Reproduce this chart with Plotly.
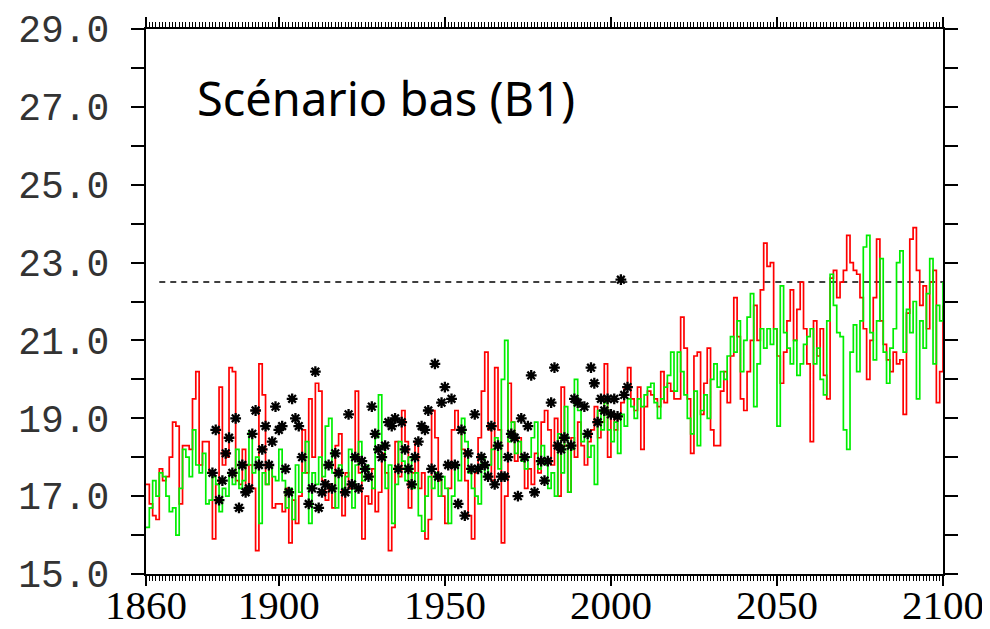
import plotly.graph_objects as go

START_YEAR = 1860
END_YEAR = 2100
years = list(range(START_YEAR, END_YEAR + 1))

red_values = [
    # 1860-1899
    17.3, 16.8, 16.5, 16.4, 17.7, 17.4, 17.5, 18.0, 18.9, 18.8,
    16.8, 18.3, 18.3, 18.2, 19.5, 20.2, 17.8, 18.4, 18.4, 17.6,
    15.9, 17.3, 19.8, 17.8, 18.0, 20.3, 20.2, 17.4, 17.3, 18.2,
    17.1, 17.8, 17.2, 15.6, 20.4, 19.6, 17.3, 17.8, 16.7, 16.8,
    # 1900-1939
    16.8, 16.6, 17.2, 15.8, 16.9, 16.3, 17.0, 18.7, 17.6, 19.5,
    18.0, 19.9, 19.7, 17.4, 16.9, 17.3, 16.7, 18.3, 18.6, 16.5,
    17.6, 17.2, 18.0, 19.7, 17.6, 15.9, 17.0, 16.8, 17.7, 16.6,
    17.1, 18.1, 17.6, 15.6, 16.2, 18.4, 17.5, 19.2, 18.4, 16.7,
    # 1940-1979
    17.6, 18.4, 17.2, 17.6, 15.9, 16.4, 19.2, 18.5, 17.4, 17.0,
    16.3, 17.2, 18.7, 19.2, 18.7, 18.2, 17.4, 16.5, 15.9, 17.6,
    18.5, 19.7, 20.7, 18.7, 17.4, 20.3, 18.7, 15.8, 17.0, 19.9,
    18.9, 17.9, 18.5, 18.0, 17.2, 17.7, 17.3, 18.1, 17.6, 18.9,
    # 1980-2019
    19.2, 18.7, 17.8, 19.0, 17.0, 19.8, 18.3, 17.1, 18.5, 18.0,
    18.9, 18.3, 17.8, 18.4, 18.7, 19.3, 18.5, 18.9, 20.4, 18.0,
    19.1, 18.7, 19.0, 19.4, 19.8, 20.3, 19.5, 19.2, 19.8, 18.2,
    19.3, 19.7, 19.6, 19.5, 19.3, 20.2, 19.4, 19.9, 19.7, 19.5,
    # 2020-2059
    19.5, 21.6, 20.8, 19.5, 18.1, 20.6, 20.7, 19.1, 19.9, 20.8,
    18.7, 18.3, 18.3, 19.7, 20.2, 19.4, 20.6, 22.1, 21.1, 19.5,
    19.2, 20.2, 21.0, 21.9, 21.0, 22.3, 23.5, 22.9, 23.0, 21.3,
    20.6, 19.9, 20.7, 21.5, 22.3, 21.0, 21.8, 22.5, 21.3, 20.4,
    # 2060-2100
    18.4, 21.5, 20.6, 21.3, 20.1, 19.5, 22.6, 22.8, 22.1, 22.5,
    22.8, 23.7, 23.0, 22.8, 22.7, 22.1, 21.3, 20.0, 21.0, 22.1,
    23.6, 21.5, 20.9, 20.5, 20.2, 20.7, 20.4, 20.5, 19.1, 21.7,
    23.6, 23.9, 22.8, 21.9, 22.4, 21.3, 22.5, 22.8, 19.4, 20.2,
    21.9,
]

green_values = [
    # 1860-1899
    16.2, 16.7, 17.4, 17.0, 17.6, 17.5, 17.0, 16.6, 16.7, 16.0,
    17.2, 18.2, 18.0, 17.5, 18.7, 17.8, 17.6, 18.1, 16.8, 16.9,
    17.5, 17.3, 16.6, 17.2, 17.0, 17.6, 17.3, 18.2, 17.2, 17.4,
    17.8, 18.65, 17.6, 18.0, 16.3, 17.6, 17.3, 17.8, 17.5, 17.4,
    # 1900-1939
    18.2, 17.4, 16.7, 17.2, 16.4, 17.8, 17.1, 17.6, 18.4, 16.3,
    17.6, 17.3, 18.0, 17.5, 18.8, 19.0, 17.6, 16.7, 17.8, 17.2,
    17.5, 18.2, 16.7, 17.8, 18.4, 17.4, 17.8, 17.5, 17.2, 18.5,
    19.6, 18.3, 17.2, 17.8, 16.3, 17.3, 18.4, 17.9, 17.4, 18.0,
    # 1940-1979
    17.2, 17.6, 16.5, 16.1, 17.0, 17.5, 17.2, 17.6, 17.0, 17.5,
    17.2, 16.3, 17.0, 17.8, 17.4, 19.0, 18.4, 17.6, 17.2, 17.0,
    16.8, 18.0, 17.5, 17.8, 18.2, 18.5, 17.7, 20.0, 21.0, 18.4,
    18.9, 18.1, 18.4, 17.9, 17.7, 18.0, 18.5, 18.9, 17.7, 18.3,
    # 1980-2019
    17.8, 17.2, 17.6, 17.0, 18.6, 17.6, 19.3, 17.1, 18.2, 20.0,
    19.2, 18.4, 18.6, 18.0, 18.3, 17.3, 19.2, 18.7, 19.4, 18.7,
    18.4, 18.9, 18.1, 19.1, 18.8, 19.5, 19.3, 19.0, 19.5, 19.3,
    19.6, 19.8, 19.9, 19.4, 19.0, 19.5, 19.8, 20.1, 20.7, 19.7,
    # 2020-2059
    20.7, 20.2, 19.6, 19.0, 18.6, 19.7, 18.3, 19.2, 19.6, 19.0,
    20.0, 20.4, 19.8, 20.2, 20.0, 20.6, 21.1, 20.7, 21.5, 20.2,
    21.0, 21.6, 22.2, 19.3, 20.4, 21.3, 20.8, 21.3, 20.9, 21.3,
    18.8, 22.4, 21.2, 20.8, 20.4, 21.0, 20.1, 20.4, 20.9, 21.1,
    # 2060-2100
    21.3, 20.4, 20.8, 20.0, 19.6, 21.5, 22.7, 21.9, 21.2, 21.1,
    18.7, 18.2, 20.7, 21.4, 20.2, 21.5, 23.4, 23.7, 21.2, 20.5,
    21.5, 23.1, 20.7, 19.9, 20.8, 21.3, 23.0, 23.3, 20.7, 21.8,
    21.2, 22.0, 19.5, 21.5, 20.8, 22.2, 23.1, 20.4, 21.9, 21.5,
    22.5,
]

obs_years = [
    1880, 1881, 1882, 1883, 1884, 1885, 1886, 1887, 1888, 1889,
    1890, 1891, 1892, 1893, 1894, 1895, 1896, 1897, 1898, 1899,
    1900, 1901, 1902, 1903, 1904, 1905, 1906, 1907, 1909, 1910,
    1911, 1912, 1913, 1914, 1915, 1916, 1917, 1918, 1920, 1921,
    1922, 1923, 1924, 1925, 1926, 1927, 1928, 1929, 1930, 1931,
    1932, 1933, 1934, 1935, 1936, 1937, 1938, 1939, 1940, 1941,
    1942, 1943, 1944, 1945, 1946, 1947, 1948, 1949, 1950, 1951,
    1952, 1953, 1954, 1955, 1956, 1957, 1958, 1959, 1960, 1961,
    1962, 1963, 1964, 1965, 1966, 1967, 1968, 1969, 1970, 1971,
    1972, 1973, 1974, 1975, 1976, 1977, 1979, 1980, 1981, 1982,
    1983, 1984, 1985, 1986, 1988, 1989, 1990, 1992, 1993, 1994,
    1995, 1996, 1997, 1998, 1999, 2000, 2001, 2002, 2003, 2004,
    2005,
]
obs_values = [
    17.6, 18.7, 16.9, 17.4, 18.1, 18.5, 17.6, 19.0, 16.7, 17.8,
    17.1, 17.2, 18.6, 19.2, 17.8, 18.2, 18.8, 17.8, 18.4, 19.3,
    18.7, 18.8, 17.7, 17.1, 19.5, 19.0, 18.8, 18.0, 16.8, 17.2,
    20.2, 16.7, 17.1, 17.3, 17.8, 17.2, 18.1, 17.6, 17.1, 19.1,
    17.3, 18.0, 17.2, 17.9, 17.7, 17.5, 19.3, 18.6, 18.2, 18.0,
    18.3, 18.9, 18.8, 19.0, 17.7, 18.9, 18.2, 17.7, 17.3, 18.0,
    18.4, 18.8, 18.7, 19.2, 17.7, 20.4, 17.5, 19.4, 19.8, 17.8,
    19.5, 17.8, 16.8, 18.7, 16.5, 18.1, 17.7, 19.1, 17.7, 18.0,
    17.8, 17.5, 18.8, 17.3, 18.3, 17.5, 17.5, 18.0, 18.6, 18.5,
    17.0, 19.0, 18.0, 18.8, 20.1, 17.1, 17.9, 17.4, 17.9, 19.4,
    20.3, 18.3, 18.2, 18.5, 18.3, 19.5, 19.4, 19.3, 18.6, 20.3,
    19.9, 18.9, 19.5, 19.2, 19.5, 19.1, 19.5, 19.05, 22.56, 19.6,
    19.8,
]

threshold = 22.5
threshold_start = 1864

y_major = [15, 17, 19, 21, 23, 25, 27, 29]
y_labels = ["15.0", "17.0", "19.0", "21.0", "23.0", "25.0", "27.0", "29.0"]
x_major = [1860, 1900, 1950, 2000, 2050, 2100]
x_labels = ["1860", "1900", "1950", "2000", "2050", "2100"]
title_text = "Scénario bas (B1)"

fig = go.Figure()

fig.add_trace(go.Scatter(
    x=[threshold_start, END_YEAR], y=[threshold, threshold], mode="lines",
    line=dict(color="black", width=1.6, dash="6px,5px"), hoverinfo="skip",
))
fig.add_trace(go.Scatter(
    x=years, y=red_values, mode="lines", line=dict(color="#ff0000", width=1.7, shape="hv"),
))
fig.add_trace(go.Scatter(
    x=years, y=green_values, mode="lines", line=dict(color="#00ee00", width=1.7, shape="hv"),
))
fig.add_trace(go.Scatter(
    x=obs_years, y=obs_values, mode="markers",
    marker=dict(symbol="asterisk-open", size=9, color="black", line=dict(color="black", width=2.3)),
))

fig.add_annotation(
    text=title_text, xref="paper", yref="paper", x=0.062, y=0.873,
    xanchor="left", yanchor="middle", showarrow=False,
    font=dict(family="Noto Sans", size=47, color="black"),
)

# the page body adds an 8 px offset; figure size and margins compensate
fig.update_layout(
    width=982, height=621,
    margin=dict(l=138, r=47, t=21, b=55),
    paper_bgcolor="white", plot_bgcolor="white",
    showlegend=False,
)
fig.update_xaxes(
    range=[START_YEAR, END_YEAR], tickvals=x_major, ticktext=x_labels,
    ticks="outside", ticklen=10, tickwidth=1.5, tickcolor="black",
    minor=dict(dtick=1, tick0=START_YEAR, ticks="outside", ticklen=5, tickwidth=1, tickcolor="black", showgrid=False),
    showline=True, linecolor="black", linewidth=2, mirror="ticks",
    showgrid=False, zeroline=False, automargin=False,
    ticklabelstandoff=-16,
    tickfont=dict(family="Liberation Serif", size=41, color="black"),
)
fig.update_yaxes(
    range=[15, 29], tickvals=y_major, ticktext=y_labels,
    ticks="outside", ticklen=13, tickwidth=1.5, tickcolor="black",
    minor=dict(dtick=1, tick0=15, ticks="outside", ticklen=13, tickwidth=1.5, tickcolor="black", showgrid=False),
    showline=True, linecolor="black", linewidth=2, mirror="ticks",
    showgrid=False, zeroline=False, automargin=False,
    ticklabelstandoff=14,
    tickfont=dict(family="Liberation Mono", size=38, color="#333333"),
)

fig.write_html("out.html")
